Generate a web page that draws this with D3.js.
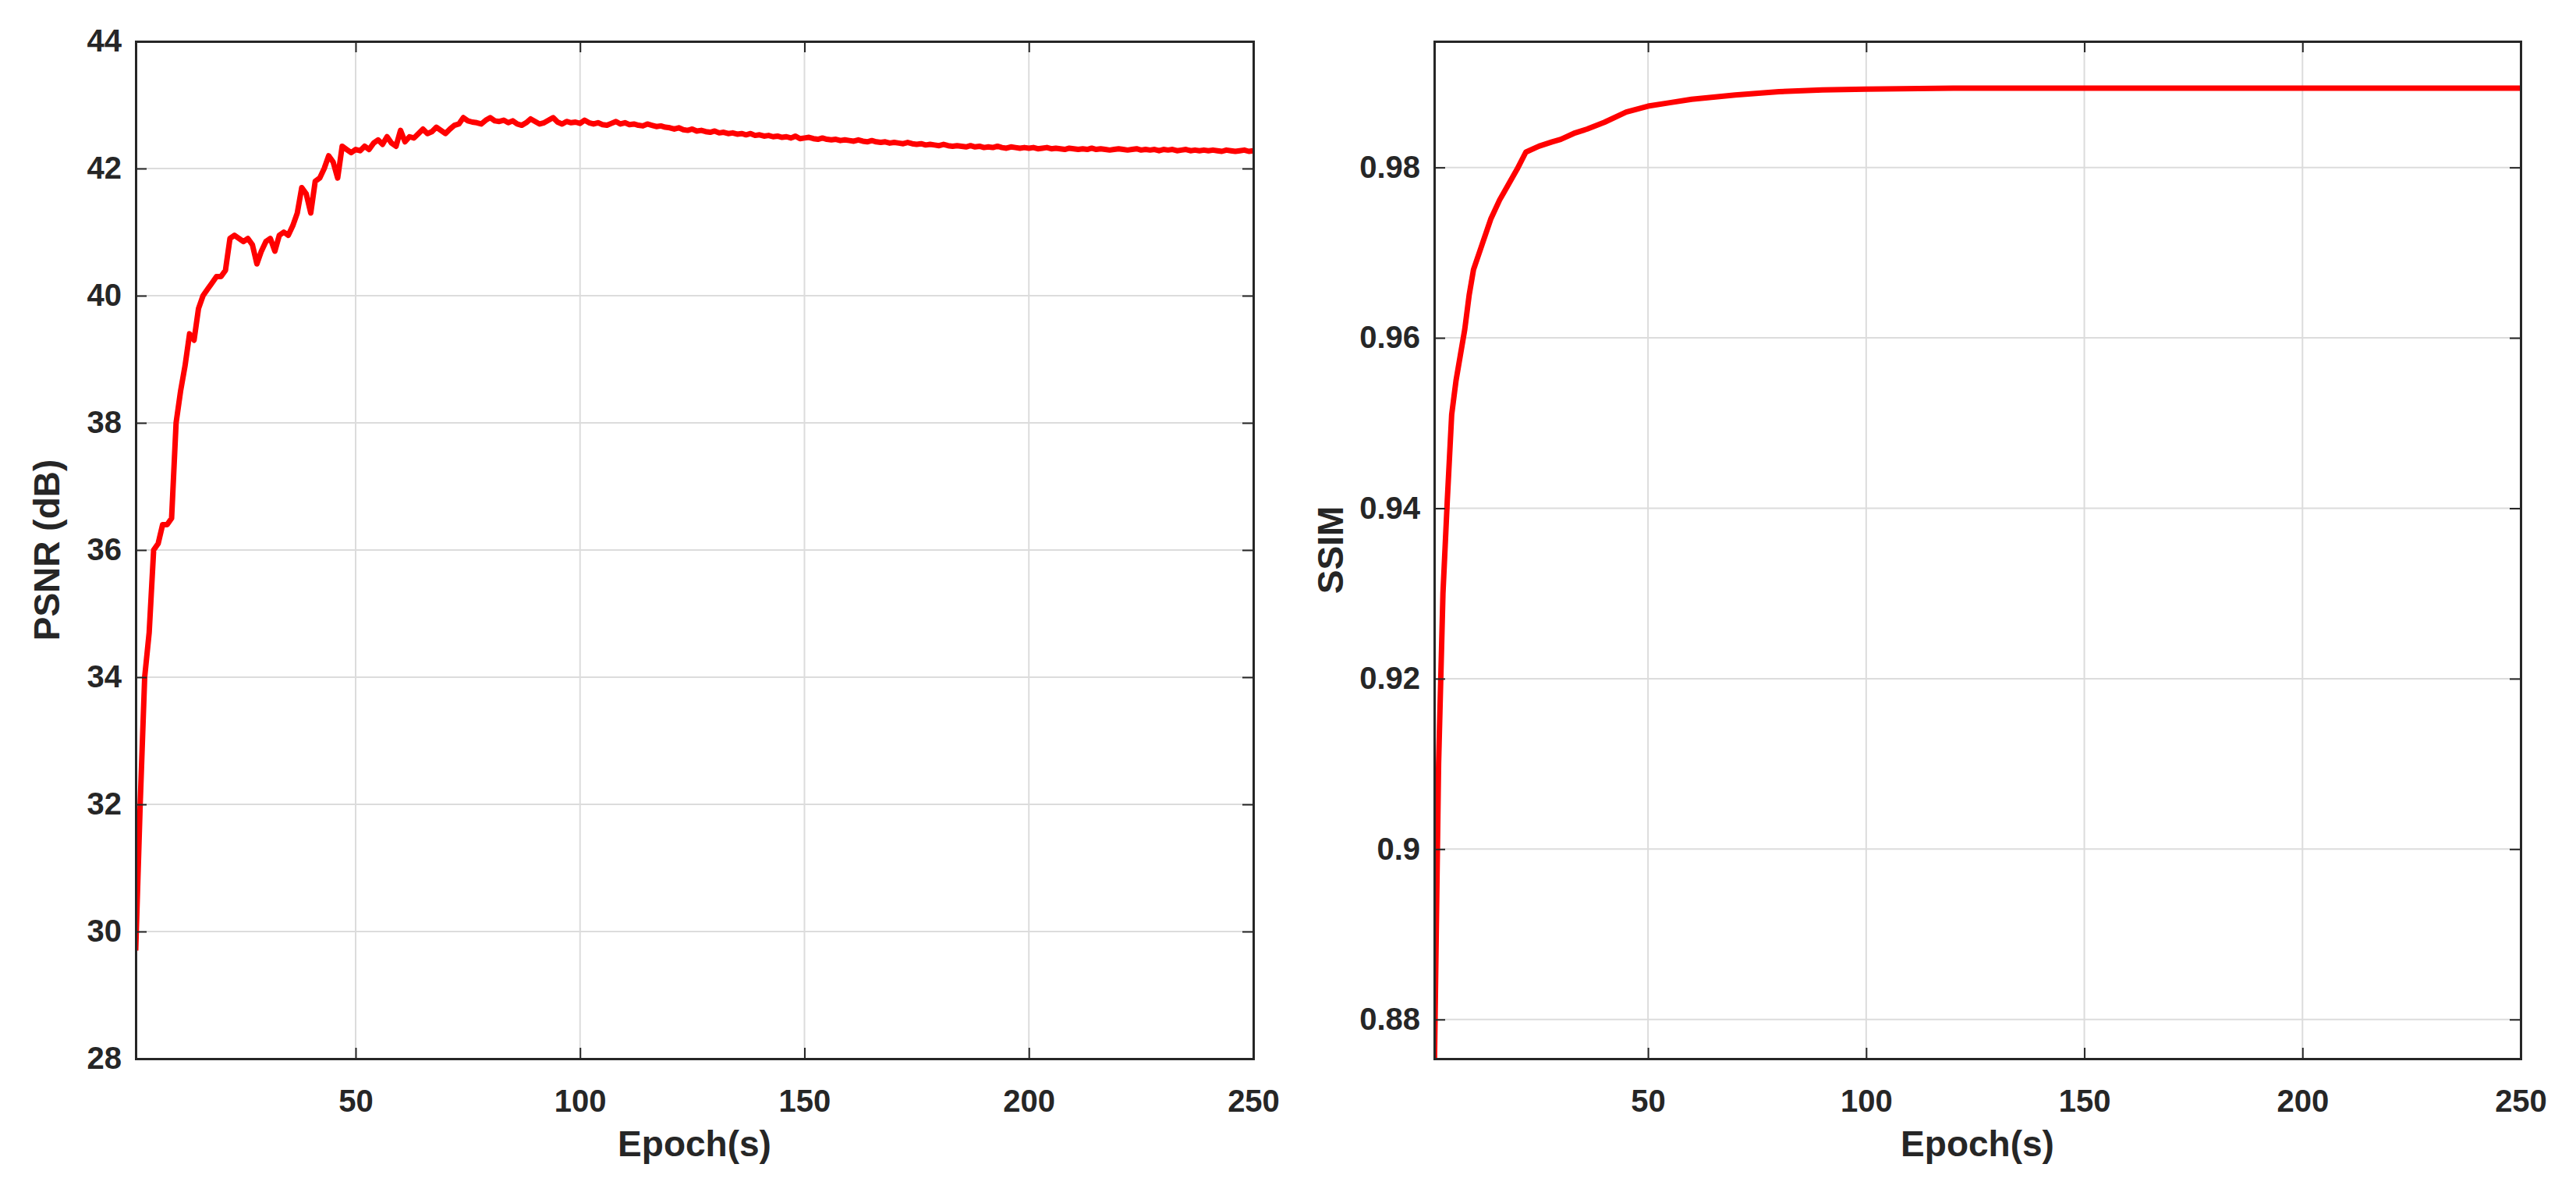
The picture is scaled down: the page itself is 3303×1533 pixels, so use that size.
<!DOCTYPE html>
<html>
<head>
<meta charset="utf-8">
<script src="https://cdn.jsdelivr.net/npm/d3@7"></script>
<style>
  body { margin: 0; background: #fff; }
  text { font-family: "Liberation Sans", Arial, sans-serif; font-weight: bold; fill: #262626; }
</style>
</head>
<body>
<svg id="chart"></svg>
<script>
// PSNR per epoch, epochs 1..250
const psnr = [
  29.7, 32.0, 34.0, 34.7, 36.0, 36.1, 36.4, 36.4, 36.5, 38.0,
  38.5, 38.9, 39.4, 39.3, 39.8, 40.0, 40.1, 40.2, 40.3, 40.3,
  40.4, 40.9, 40.95, 40.9, 40.85, 40.9, 40.8, 40.5, 40.7, 40.85,
  40.9, 40.7, 40.95, 41.0, 40.95, 41.1, 41.3, 41.7, 41.6, 41.3,
  41.8, 41.85, 42.0, 42.2, 42.1, 41.85, 42.35, 42.3, 42.25, 42.3,
  42.28, 42.35, 42.3, 42.4, 42.45, 42.38, 42.5, 42.4, 42.35, 42.6,
  42.42, 42.5, 42.48, 42.55, 42.62, 42.55, 42.58, 42.65, 42.6, 42.55,
  42.62, 42.68, 42.7, 42.8, 42.75, 42.73, 42.72, 42.7, 42.76, 42.8,
  42.75, 42.74, 42.76, 42.72, 42.75, 42.7, 42.68, 42.72, 42.78, 42.74,
  42.7, 42.72, 42.76, 42.8, 42.73, 42.7, 42.74, 42.72, 42.73, 42.71,
  42.76, 42.72, 42.7, 42.72, 42.69, 42.68, 42.71, 42.74, 42.7, 42.72,
  42.69, 42.7, 42.68, 42.67, 42.7, 42.68, 42.66, 42.67, 42.65, 42.64,
  42.62, 42.64, 42.61, 42.6, 42.62, 42.59, 42.6, 42.58, 42.57, 42.59,
  42.56, 42.57, 42.55, 42.56, 42.54, 42.55, 42.53, 42.55, 42.52, 42.53,
  42.51, 42.52, 42.5, 42.51, 42.49, 42.5, 42.48, 42.51, 42.47, 42.48,
  42.49, 42.47, 42.46, 42.48, 42.46, 42.45, 42.46, 42.44, 42.45, 42.44,
  42.43, 42.45, 42.43, 42.42, 42.44, 42.42, 42.41, 42.42, 42.4, 42.41,
  42.4, 42.39, 42.41, 42.39, 42.38, 42.39, 42.37, 42.38, 42.37, 42.36,
  42.38, 42.36, 42.35, 42.36, 42.35, 42.34, 42.36, 42.34, 42.35, 42.33,
  42.34, 42.33, 42.35, 42.33, 42.32, 42.34, 42.33, 42.32, 42.33, 42.32,
  42.33, 42.31, 42.32, 42.33, 42.31, 42.32, 42.31, 42.3, 42.32, 42.31,
  42.3, 42.31, 42.3, 42.32, 42.3, 42.31, 42.3, 42.29, 42.3, 42.31,
  42.3, 42.29, 42.3, 42.31, 42.29, 42.3, 42.29, 42.3, 42.28, 42.3,
  42.29, 42.3, 42.28, 42.29, 42.3, 42.28, 42.29, 42.28, 42.29, 42.28,
  42.29, 42.28, 42.27, 42.29, 42.28, 42.27, 42.28, 42.29, 42.27, 42.28
];

// SSIM sampled epochs and values
const ssimEpochs = [1, 2, 3, 4, 5, 6, 7, 8, 9, 10, 12, 14, 16, 18, 20, 22, 25, 28, 30, 33,
  36, 40, 45, 50, 55, 60, 70, 80, 90, 100, 120, 150, 200, 250];
const ssimValues = [0.873, 0.910, 0.930, 0.941, 0.951, 0.955, 0.958, 0.961, 0.965, 0.968,
  0.971, 0.974, 0.9762, 0.978, 0.9798, 0.9818, 0.9825, 0.983, 0.9833, 0.984,
  0.9845, 0.9853, 0.9865, 0.9872, 0.9876, 0.988, 0.9885, 0.9889, 0.9891, 0.9892,
  0.9893, 0.9893, 0.9893, 0.9893];

const psnrTicks = [28, 30, 32, 34, 36, 38, 40, 42, 44];
const ssimTicks = [0.88, 0.9, 0.92, 0.94, 0.96, 0.98];
const epochTicks = [50, 100, 150, 200, 250];

const W = 3303, H = 1533;
const svg = d3.select('#chart').attr('width', W).attr('height', H);

function panel(opts) {
  const { left, right, top, bottom, yDomain, yTicks, yFmt, yLabel, yLabelX, points } = opts;
  const x = d3.scaleLinear().domain([1, 250]).range([left, right]);
  const y = d3.scaleLinear().domain(yDomain).range([bottom, top]);
  const g = svg.append('g');

  // grid
  g.selectAll('.vg').data(epochTicks).join('line')
    .attr('x1', d => x(d)).attr('x2', d => x(d)).attr('y1', top).attr('y2', bottom)
    .attr('stroke', '#dcdcdc').attr('stroke-width', 2);
  g.selectAll('.hg').data(yTicks).join('line')
    .attr('x1', left).attr('x2', right).attr('y1', d => y(d)).attr('y2', d => y(d))
    .attr('stroke', '#dcdcdc').attr('stroke-width', 2);

  const clipId = 'clip' + left;
  svg.append('clipPath').attr('id', clipId).append('rect')
    .attr('x', left).attr('y', top).attr('width', right - left).attr('height', bottom - top);

  g.append('path').datum(points)
    .attr('clip-path', `url(#${clipId})`)
    .attr('fill', 'none').attr('stroke', '#ff0000').attr('stroke-width', 7)
    .attr('stroke-linejoin', 'round')
    .attr('d', d3.line().x(d => x(d[0])).y(d => y(d[1])));

  // axes: ticks inward like MATLAB
  const ax = g.append('g').attr('transform', `translate(0,${bottom})`)
    .call(d3.axisBottom(x).tickValues(epochTicks).tickSize(-14).tickPadding(40));
  const axTop = g.append('g').attr('transform', `translate(0,${top})`)
    .call(d3.axisTop(x).tickValues(epochTicks).tickSize(-14).tickFormat(''));
  const ay = g.append('g').attr('transform', `translate(${left},0)`)
    .call(d3.axisLeft(y).tickValues(yTicks).tickSize(-14).tickPadding(18).tickFormat(yFmt));
  const ayR = g.append('g').attr('transform', `translate(${right},0)`)
    .call(d3.axisRight(y).tickValues(yTicks).tickSize(-14).tickFormat(''));
  [ax, axTop, ay, ayR].forEach(a => {
    a.selectAll('path').attr('stroke', '#262626').attr('stroke-width', 3);
    a.selectAll('line').attr('stroke', '#262626').attr('stroke-width', 2);
    a.selectAll('text').style('font-size', '40px').style('font-family', '"Liberation Sans", Arial, sans-serif')
      .style('font-weight', 'bold').attr('fill', '#262626');
  });

  g.append('text').attr('x', (left + right) / 2).attr('y', 1482)
    .attr('text-anchor', 'middle').style('font-size', '46px').text('Epoch(s)');
  g.append('text').attr('transform', `translate(${yLabelX},${(top + bottom) / 2}) rotate(-90)`)
    .attr('text-anchor', 'middle').style('font-size', '46px').text(yLabel);
}

panel({
  left: 174, right: 1607, top: 53, bottom: 1357,
  yDomain: [28, 44], yTicks: psnrTicks, yFmt: d3.format('d'),
  yLabel: 'PSNR (dB)', yLabelX: 76,
  points: psnr.map((v, i) => [i + 1, v])
});

panel({
  left: 1839, right: 3232, top: 53, bottom: 1357,
  yDomain: [0.8754, 0.9948], yTicks: ssimTicks, yFmt: d => String(+d.toFixed(2)),
  yLabel: 'SSIM', yLabelX: 1722,
  points: ssimEpochs.map((e, i) => [e, ssimValues[i]])
});
</script>
</body>
</html>
